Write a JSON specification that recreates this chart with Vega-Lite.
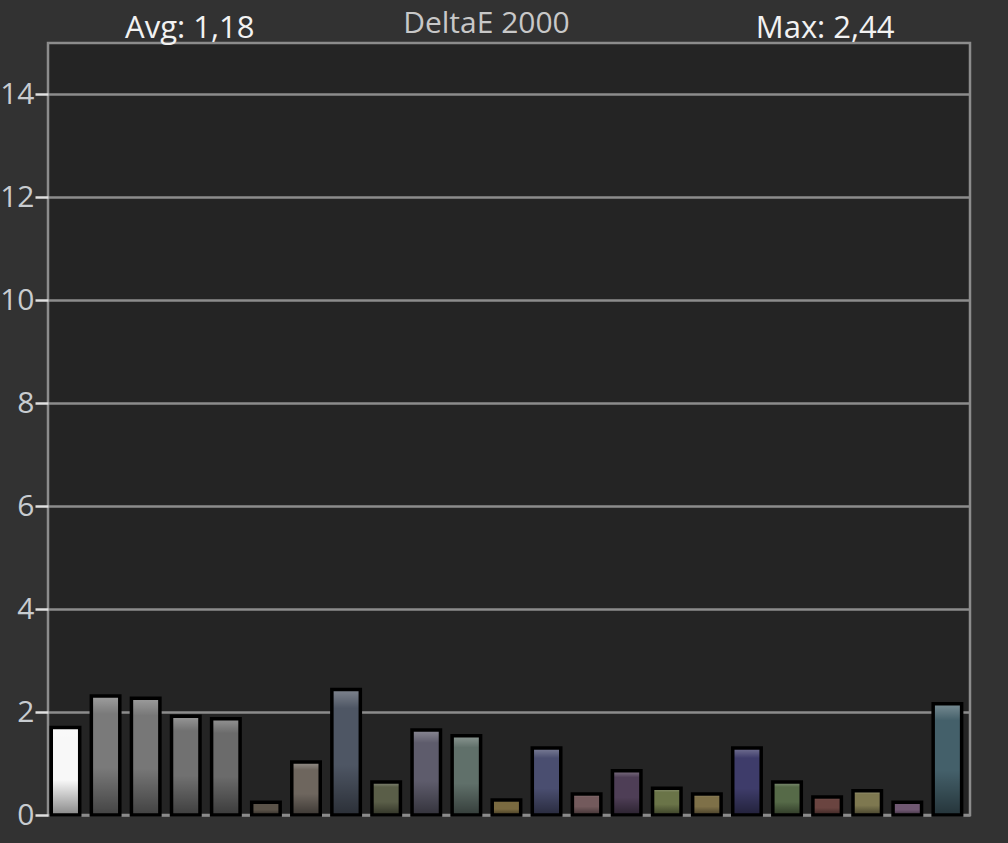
{
  "$schema": "https://vega.github.io/schema/vega-lite/v6.json",
  "width": 922,
  "height": 772,
  "autosize": "none",
  "padding": {"left": 48, "top": 43, "right": 38, "bottom": 28},
  "background": "#323232",
  "config": {
    "view": {"fill": "#242424", "stroke": "#8c8c8c", "strokeWidth": 2.5},
    "font": "Open Sans"
  },
  "data": {
    "values": [
      {"patch": 1, "de": 1.70},
      {"patch": 2, "de": 2.31},
      {"patch": 3, "de": 2.27},
      {"patch": 4, "de": 1.92},
      {"patch": 5, "de": 1.87},
      {"patch": 6, "de": 0.25},
      {"patch": 7, "de": 1.03},
      {"patch": 8, "de": 2.44},
      {"patch": 9, "de": 0.64},
      {"patch": 10, "de": 1.65},
      {"patch": 11, "de": 1.54},
      {"patch": 12, "de": 0.29},
      {"patch": 13, "de": 1.30},
      {"patch": 14, "de": 0.41},
      {"patch": 15, "de": 0.86},
      {"patch": 16, "de": 0.52},
      {"patch": 17, "de": 0.41},
      {"patch": 18, "de": 1.30},
      {"patch": 19, "de": 0.64},
      {"patch": 20, "de": 0.35},
      {"patch": 21, "de": 0.47},
      {"patch": 22, "de": 0.25},
      {"patch": 23, "de": 2.16}
    ]
  },
  "encoding": {
    "x": {
      "field": "patch",
      "type": "ordinal",
      "scale": {"paddingInner": 0.29, "paddingOuter": 0.145, "align": 0.28},
      "axis": null
    }
  },
  "layer": [
    {
      "mark": {"type": "bar"},
      "encoding": {
        "y": {
          "field": "de",
          "type": "quantitative",
          "scale": {"domain": [0, 15], "nice": false, "zero": true},
          "axis": {
            "values": [0, 2, 4, 6, 8, 10, 12, 14],
            "grid": true,
            "gridColor": "#8c8c8c",
            "gridWidth": 2.5,
            "domain": false,
            "tickColor": "#e0e0e0",
            "tickSize": 13,
            "tickWidth": 2.5,
            "labelFontSize": 30,
            "labelFont": "Open Sans",
            "labelColor": "#c8ccd0",
            "labelPadding": 1,
            "title": null
          }
        },
        "color": {
          "field": "patch",
          "type": "ordinal",
          "legend": null,
          "scale": {
            "range": ["#f8f8f8", "#7a7a7a", "#777777", "#717171", "#6b6b6b", "#5a5248", "#6e665e", "#4e5664", "#5a5e48", "#5e5c6c", "#60706a", "#7a6a40", "#4a4e70", "#735a5c", "#4e3e56", "#6a7448", "#7e7048", "#3e3c6a", "#566a48", "#6a4440", "#7e7850", "#705872", "#44606a"]
          }
        }
      }
    },
    {
      "mark": {
        "type": "bar",
        "stroke": "#000000",
        "strokeWidth": 3.5,
        "fill": {
          "gradient": "linear",
          "x1": 0, "y1": 0, "x2": 0, "y2": 1,
          "stops": [
            {"offset": 0, "color": "rgba(255,255,255,0.28)"},
            {"offset": 0.15, "color": "rgba(255,255,255,0)"},
            {"offset": 0.6, "color": "rgba(0,0,0,0)"},
            {"offset": 1, "color": "rgba(0,0,0,0.45)"}
          ]
        }
      },
      "encoding": {
        "y": {"field": "de", "type": "quantitative"}
      }
    },
    {
      "data": {"values": [{"patch": 4, "label": "Avg: 1,18"}]},
      "mark": {
        "type": "text",
        "fontSize": 31,
        "font": "Open Sans",
        "color": "#f2f2f2",
        "baseline": "alphabetic",
        "align": "center",
        "dy": -5,
        "dx": 4
      },
      "encoding": {
        "text": {"field": "label"},
        "y": {"datum": 15}
      }
    },
    {
      "data": {"values": [{"patch": 20, "label": "Max: 2,44"}]},
      "mark": {
        "type": "text",
        "fontSize": 31,
        "font": "Open Sans",
        "color": "#f2f2f2",
        "baseline": "alphabetic",
        "align": "center",
        "dy": -5,
        "dx": -2
      },
      "encoding": {
        "text": {"field": "label"},
        "y": {"datum": 15}
      }
    },
    {
      "data": {"values": [{"patch": 12, "label": "DeltaE 2000"}]},
      "mark": {
        "type": "text",
        "fontSize": 30,
        "font": "Open Sans",
        "color": "#c8c8c8",
        "baseline": "alphabetic",
        "align": "center",
        "dy": -10,
        "dx": -20
      },
      "encoding": {
        "text": {"field": "label"},
        "y": {"datum": 15}
      }
    }
  ]
}
